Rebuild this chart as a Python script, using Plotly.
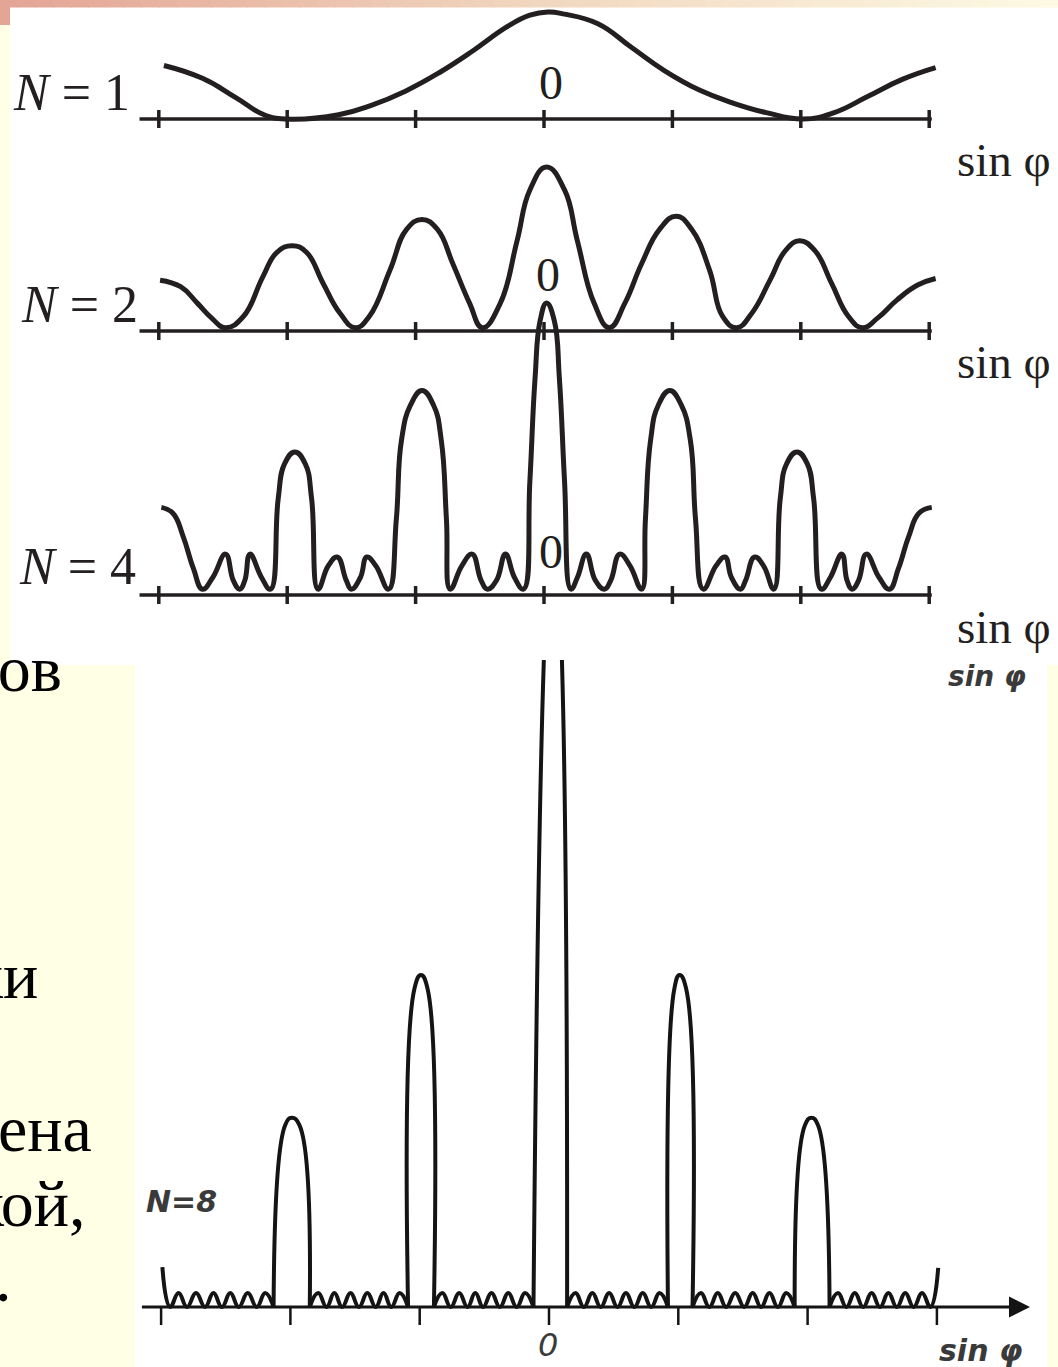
import plotly.graph_objects as go

W, H = 1058, 1367

# ---------------- data ----------------
tick_units = [-3, -2, -1, 0, 1, 2, 3]

# N = 1 : relative intensity vs sin(phi) in grating-period units
n1_u = [-2.96, -2.66, -2.40, -2.18, -2.00, -1.60, -1.34, -1.08, -0.82, -0.55, -0.29, -0.11,
        0.03, 0.16, 0.42, 0.68, 0.94, 1.21, 1.47, 1.73, 2.02, 2.26, 2.52, 2.79, 3.05]
n1_i = [0.50, 0.38, 0.20, 0.04, 0.00, 0.04, 0.13, 0.26, 0.43, 0.64, 0.86, 0.97,
        1.00, 0.98, 0.89, 0.67, 0.45, 0.27, 0.15, 0.06, 0.00, 0.06, 0.21, 0.37, 0.48]

# N = 2
n2_u = [-2.99, -2.83, -2.70, -2.59, -2.48, -2.34, -2.19, -2.08, -1.96, -1.85, -1.72, -1.59,
        -1.47, -1.36, -1.20, -1.07, -0.95, -0.83, -0.71, -0.58, -0.48, -0.34, -0.21, -0.11,
        0.02, 0.16, 0.26, 0.39, 0.51, 0.63, 0.76, 0.90, 1.03, 1.15, 1.29, 1.39, 1.50, 1.62,
        1.76, 1.88, 1.99, 2.11, 2.24, 2.37, 2.48, 2.60, 2.75, 2.91, 3.05]
n2_i = [0.31, 0.27, 0.17, 0.08, 0.02, 0.09, 0.33, 0.48, 0.52, 0.48, 0.29, 0.11,
        0.02, 0.09, 0.37, 0.62, 0.68, 0.62, 0.41, 0.17, 0.02, 0.17, 0.55, 0.86,
        1.00, 0.86, 0.55, 0.17, 0.02, 0.17, 0.41, 0.62, 0.70, 0.62, 0.37, 0.09, 0.02, 0.11,
        0.31, 0.49, 0.55, 0.49, 0.29, 0.09, 0.02, 0.08, 0.19, 0.28, 0.32]

# N = 4
n4_u = [-2.98, -2.89, -2.81, -2.73, -2.66, -2.58, -2.48, -2.42, -2.37, -2.33, -2.29, -2.20, -2.13,
        -2.07, -2.02, -1.94, -1.86, -1.81, -1.76,
        -1.68, -1.61, -1.54, -1.50, -1.43, -1.38, -1.31, -1.21,
        -1.15, -1.11, -1.04, -0.95, -0.86, -0.80, -0.76, -0.73,
        -0.64, -0.56, -0.49, -0.44, -0.37, -0.30, -0.23, -0.16,
        -0.11, -0.07, -0.03, 0.02, 0.08, 0.12, 0.16, 0.21,
        0.26, 0.33, 0.40, 0.47, 0.52, 0.59, 0.67, 0.76,
        0.79, 0.83, 0.89, 0.98, 1.07, 1.14, 1.18, 1.24,
        1.34, 1.41, 1.46, 1.53, 1.57, 1.64, 1.71, 1.79,
        1.84, 1.89, 1.97, 2.05, 2.10, 2.16,
        2.23, 2.32, 2.36, 2.40, 2.45, 2.51, 2.61, 2.69,
        2.76, 2.84, 2.92, 3.02]
n4_i = [0.30, 0.28, 0.20, 0.09, 0.02, 0.06, 0.14, 0.05, 0.02, 0.05, 0.14, 0.06, 0.02,
        0.33, 0.45, 0.49, 0.45, 0.33, 0.02,
        0.10, 0.13, 0.05, 0.02, 0.06, 0.13, 0.10, 0.02,
        0.26, 0.53, 0.65, 0.70, 0.65, 0.53, 0.26, 0.02,
        0.10, 0.14, 0.05, 0.02, 0.05, 0.14, 0.06, 0.02,
        0.39, 0.74, 0.94, 1.00, 0.94, 0.74, 0.39, 0.02,
        0.06, 0.14, 0.05, 0.02, 0.05, 0.14, 0.10, 0.02,
        0.26, 0.53, 0.65, 0.70, 0.65, 0.53, 0.26, 0.02,
        0.10, 0.13, 0.06, 0.02, 0.05, 0.13, 0.10, 0.02,
        0.33, 0.45, 0.49, 0.45, 0.33, 0.02,
        0.06, 0.14, 0.05, 0.02, 0.05, 0.14, 0.06, 0.02,
        0.09, 0.20, 0.28, 0.30]

# N = 8 (central maximum runs off the top of the picture)
n8_u = [-2.99, -2.93,
        -2.865, -2.80, -2.73, -2.66, -2.595, -2.53, -2.465, -2.40, -2.33, -2.26, -2.195, -2.13,
        -2.04, -1.99, -1.93, -1.85,
        -1.785, -1.72, -1.66, -1.60, -1.535, -1.47, -1.405, -1.34, -1.28, -1.22, -1.155, -1.09,
        -1.04, -0.99, -0.94, -0.89,
        -0.825, -0.76, -0.695, -0.63, -0.57, -0.51, -0.445, -0.38, -0.315, -0.25, -0.185, -0.12,
        -0.04, 0.03, 0.10, 0.14,
        0.205, 0.27, 0.335, 0.40, 0.465, 0.53, 0.595, 0.66, 0.725, 0.79, 0.855, 0.92,
        0.97, 1.01, 1.06, 1.11,
        1.175, 1.24, 1.305, 1.37, 1.44, 1.51, 1.575, 1.64, 1.705, 1.77, 1.835, 1.90,
        1.98, 2.03, 2.08, 2.17,
        2.235, 2.30, 2.365, 2.43, 2.495, 2.56, 2.625, 2.69, 2.755, 2.82, 2.885, 2.95,
        3.01]
n8_i = [0.060, 0.0,
        0.021, 0.0, 0.021, 0.0, 0.021, 0.0, 0.021, 0.0, 0.021, 0.0, 0.021, 0.0,
        0.274, 0.285, 0.274, 0.0,
        0.021, 0.0, 0.021, 0.0, 0.021, 0.0, 0.021, 0.0, 0.021, 0.0, 0.021, 0.0,
        0.480, 0.500, 0.480, 0.0,
        0.021, 0.0, 0.021, 0.0, 0.021, 0.0, 0.021, 0.0, 0.021, 0.0, 0.021, 0.0,
        0.974, 1.250, 0.974, 0.0,
        0.021, 0.0, 0.021, 0.0, 0.021, 0.0, 0.021, 0.0, 0.021, 0.0, 0.021, 0.0,
        0.480, 0.500, 0.480, 0.0,
        0.021, 0.0, 0.021, 0.0, 0.021, 0.0, 0.021, 0.0, 0.021, 0.0, 0.021, 0.0,
        0.274, 0.285, 0.274, 0.0,
        0.021, 0.0, 0.021, 0.0, 0.021, 0.0, 0.021, 0.0, 0.021, 0.0, 0.021, 0.0,
        0.059]

# ---------------- layout geometry (pixels) ----------------
TOP_X0, TOP_DX = 544.0, 128.4          # pixel of sin(phi)=0, pixels per unit (top figure)
BOT_X0, BOT_DX = 549.0, 129.3          # same for bottom figure
panels = [  # (axis pixel row, pixels per unit intensity)
    (119.0, 107.0),
    (331.0, 164.0),
    (595.0, 292.0),
]
BOT_AXIS, BOT_SCALE = 1307.0, 664.0
BOT_LEFT, BOT_RIGHT, BOT_TOP = 135.0, 1047.0, 660.0
INK = "#231f20"
INK2 = "#141414"
BG = "#FFFFE6"


def pxx(p):
    return p / W


def pxy(p):
    return 1 - p / H


fig = go.Figure()

# top curves + their axes
curves = [(n1_u, n1_i), (n2_u, n2_i), (n4_u, n4_i)]
yaxes = ["y", "y2", "y3"]
for (u, iv), ya, (ap, sc) in zip(curves, yaxes, panels):
    fig.add_trace(go.Scatter(x=[tick_units[0] - 0.15, tick_units[-1] + 0.02], y=[0, 0],
                             mode="lines", line=dict(color=INK, width=3.5),
                             xaxis="x", yaxis=ya, hoverinfo="skip"))
    tx, ty = [], []
    tl = 9.0 / sc
    for t in tick_units:
        tx += [t, t, None]
        ty += [-tl, tl, None]
    fig.add_trace(go.Scatter(x=tx, y=ty, mode="lines", line=dict(color=INK, width=3.5),
                             xaxis="x", yaxis=ya, hoverinfo="skip"))
    fig.add_trace(go.Scatter(x=u, y=iv, mode="lines",
                             line=dict(color=INK, width=5, shape="spline", smoothing=1.3),
                             xaxis="x", yaxis=ya, hoverinfo="skip"))

# bottom (N = 8) curve, split at the feet of the principal maxima
segs, cur = [], [0]
for k in range(1, len(n8_u)):
    cur.append(k)
    nxt = n8_i[k + 1] if k + 1 < len(n8_i) else 0
    if n8_i[k] == 0 and (nxt > 0.1 or n8_i[k - 1] > 0.1):
        segs.append(cur)
        cur = [k]
segs.append(cur)
for s in segs:
    fig.add_trace(go.Scatter(x=[n8_u[k] for k in s], y=[n8_i[k] for k in s], mode="lines",
                             line=dict(color=INK2, width=4, shape="spline", smoothing=1.3),
                             xaxis="x2", yaxis="y4", hoverinfo="skip"))
bx, by = [], []
for t in tick_units:
    bx += [t, t, None]
    by += [0, -18.0 / BOT_SCALE, None]
fig.add_trace(go.Scatter(x=bx, y=by, mode="lines", line=dict(color=INK2, width=2.5),
                         xaxis="x2", yaxis="y4", hoverinfo="skip"))

# ---------------- axes ----------------
ax_hidden = dict(visible=False, showgrid=False, zeroline=False, fixedrange=True)
layout_axes = {}
layout_axes["xaxis"] = dict(ax_hidden, domain=[0, 1], anchor="y",
                            range=[(0 - TOP_X0) / TOP_DX, (W - TOP_X0) / TOP_DX])
for name, (ap, sc) in zip(["yaxis", "yaxis2", "yaxis3"], panels):
    d = dict(ax_hidden, domain=[0, 1], anchor="x", range=[(ap - H) / sc, ap / sc])
    if name != "yaxis":
        d["overlaying"] = "y"
    layout_axes[name] = d
layout_axes["xaxis2"] = dict(ax_hidden, domain=[pxx(BOT_LEFT), pxx(BOT_RIGHT)], anchor="y4",
                             range=[(BOT_LEFT - BOT_X0) / BOT_DX, (BOT_RIGHT - BOT_X0) / BOT_DX])
layout_axes["yaxis4"] = dict(ax_hidden, domain=[0, pxy(BOT_TOP)], anchor="x2",
                             range=[(BOT_AXIS - H) / BOT_SCALE, (BOT_AXIS - BOT_TOP) / BOT_SCALE])

# ---------------- background shapes ----------------
shapes = [
    dict(type="rect", xref="paper", yref="paper", x0=pxx(10), x1=1, y0=pxy(665), y1=pxy(7),
         fillcolor="white", line_width=0, layer="below"),
    dict(type="rect", xref="paper", yref="paper", x0=pxx(BOT_LEFT), x1=pxx(BOT_RIGHT),
         y0=0, y1=pxy(BOT_TOP), fillcolor="white", line_width=0, layer="below"),
    dict(type="rect", xref="paper", yref="paper", x0=0, x1=pxx(10), y0=pxy(25), y1=1,
         fillcolor="#E3A594", line_width=0, layer="below"),
]
stops = [(0.0, (227, 164, 148)), (0.5, (241, 214, 190)), (1.0, (253, 250, 228))]


def grad(f):
    for (a, ca), (b, cb) in zip(stops[:-1], stops[1:]):
        if a <= f <= b:
            t = (f - a) / (b - a)
            return "rgb(%d,%d,%d)" % tuple(round(ca[i] + (cb[i] - ca[i]) * t) for i in range(3))
    return "rgb(253,250,228)"


nstrip = 60
for k in range(nstrip):
    f0, f1 = k / nstrip, (k + 1) / nstrip
    shapes.append(dict(type="rect", xref="paper", yref="paper", x0=f0, x1=f1 + 0.001,
                       y0=pxy(7.5), y1=1, fillcolor=grad((f0 + f1) / 2), line_width=0,
                       layer="below"))

# ---------------- texts ----------------
SERIF = "Liberation Serif"
ann = []


def txt(text, x, y, size, xanchor="center", family=SERIF, color="black", yanchor="middle"):
    ann.append(dict(text=text, x=pxx(x), y=pxy(y), xref="paper", yref="paper",
                    showarrow=False, xanchor=xanchor, yanchor=yanchor,
                    font=dict(family=family, size=size, color=color)))


for lab, yy, xr in [("1", 92, 132), ("2", 304, 140), ("4", 566, 138)]:
    txt("<i>N</i> = " + lab, xr, yy, 52, xanchor="right", color=INK)
for xx, yy in [(551, 83), (548, 274), (551, 551)]:
    txt("0", xx, yy, 48, color=INK)
for yy in [160, 362, 627]:
    txt("sin φ", 1004, yy, 47, color=INK)

ITAL = "DejaVu Sans"
txt("<b><i>sin φ</i></b>", 987, 676, 28, family=ITAL, color="#3a3a3a")
txt("<b><i>N=8</i></b>", 181, 1201, 30, family=ITAL, color="#3a3a3a")
txt("<i>0</i>", 548, 1345, 32, family=ITAL, color="#3a3a3a")
txt("<b><i>sin φ</i></b>", 980, 1350, 30, family=ITAL, color="#3a3a3a")

# slide text peeking out at the left (cut by the left edge as in the original)
for s, xr, yb in [("мов", 64, 690), ("ки", 40, 997), ("ена", 94, 1150),
                  ("кой,", 88, 1225), (".", 14, 1300)]:
    txt(s, xr, yb - 22, 66, xanchor="right", color="black")

# arrow of the bottom axis
ann.append(dict(x=3.72, y=0, ax=-3.16, ay=0, xref="x2", yref="y4", axref="x2", ayref="y4",
                showarrow=True, arrowhead=2, arrowsize=1.4, arrowwidth=3, arrowcolor=INK2,
                text="", standoff=0, startstandoff=0))

fig.update_layout(width=W, height=H, margin=dict(l=0, r=0, t=0, b=0), autosize=False,
                  paper_bgcolor=BG, plot_bgcolor="rgba(0,0,0,0)", showlegend=False,
                  shapes=shapes, annotations=ann, **layout_axes)

fig.write_html("out.html", config={"displayModeBar": False, "staticPlot": True},
               post_script="document.body.style.margin='0';"
                           "document.body.style.background='" + BG + "';")
